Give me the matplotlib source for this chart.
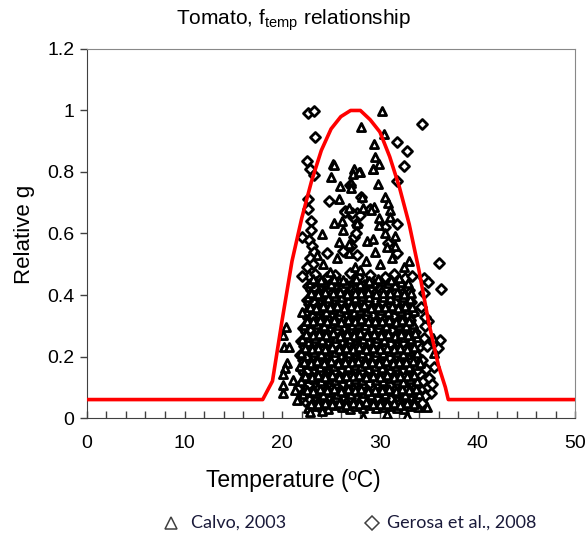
import numpy as np
import matplotlib
matplotlib.use("Agg")
import matplotlib.pyplot as plt
from matplotlib.lines import Line2D

plt.rcParams['font.family'] = ['Liberation Sans', 'DejaVu Sans']
plt.rcParams['mathtext.fontset'] = 'custom'
plt.rcParams['mathtext.rm'] = 'Liberation Sans'

# f_temp curve
curve_temp = [0, 18, 19, 20, 21, 22, 23, 24, 25, 26, 27, 28, 29, 30, 31, 32, 33, 34, 35, 36, 36.7, 37, 50]
curve_g = [0.06, 0.06, 0.12, 0.32, 0.51, 0.65, 0.77, 0.87, 0.94, 0.98, 1.0, 1.0, 0.97, 0.93, 0.85, 0.75,
           0.63, 0.48, 0.31, 0.17, 0.10, 0.06, 0.06]

# Calvo, 2003 (triangles) - (temperature, relative g)
calvo_points = [
    (22.6,.032),(23.3,.040),(24.1,.036),(24.7,.030),(25.5,.041),(26.1,.035),(26.9,.029),(27.5,.038),(28.3,.033),
    (28.9,.042),(29.6,.031),(30.4,.037),(31.0,.040),(31.8,.034),(32.5,.030),(33.1,.039),(33.9,.036),
    (22.9,.047),(23.7,.044),(24.4,.049),(25.1,.045),(25.8,.050),(26.5,.043),(27.2,.048),(27.9,.046),(28.6,.051),
    (29.3,.044),(30.0,.047),(30.7,.045),(31.4,.049),(32.1,.043),(32.8,.048),(33.5,.046),
    (22.1,.078),(22.8,.085),(23.5,.081),(24.2,.076),(24.9,.086),(25.6,.079),(26.3,.083),(27.0,.077),(27.7,.088),
    (28.4,.080),(29.1,.075),(29.8,.084),(30.5,.079),(31.2,.087),(31.9,.081),(32.6,.076),(33.3,.085),(34.0,.079),
    (22.5,.092),(23.2,.089),(23.9,.094),(24.6,.090),(25.3,.095),(26.0,.088),(26.7,.093),(27.4,.091),(28.1,.096),
    (28.8,.089),(29.5,.092),(30.2,.090),(30.9,.094),(31.6,.088),(32.3,.093),(33.0,.091),(33.7,.095),
    (21.9,.122),(22.6,.130),(23.3,.126),(24.0,.119),(24.7,.128),(25.4,.124),(26.1,.131),(26.8,.121),(27.5,.127),
    (28.2,.123),(28.9,.132),(29.6,.125),(30.3,.120),(31.0,.129),(31.7,.124),(32.4,.118),(33.1,.127),(33.8,.122),
    (22.3,.137),(23.0,.134),(23.7,.139),(24.4,.135),(25.1,.140),(25.8,.133),(26.5,.138),(27.2,.136),(27.9,.141),
    (28.6,.134),(29.3,.137),(30.0,.135),(30.7,.139),(31.4,.133),(32.1,.138),(32.8,.136),(33.5,.140),
    (21.8,.168),(22.5,.175),(23.2,.171),(23.9,.165),(24.6,.174),(25.3,.169),(26.0,.176),(26.7,.166),(27.4,.172),
    (28.1,.168),(28.8,.177),(29.5,.170),(30.2,.164),(30.9,.173),(31.6,.169),(32.3,.175),(33.0,.167),(33.7,.172),
    (22.2,.182),(22.9,.179),(23.6,.184),(24.3,.180),(25.0,.185),(25.7,.178),(26.4,.183),(27.1,.181),(27.8,.186),
    (28.5,.179),(29.2,.182),(29.9,.180),(30.6,.184),(31.3,.178),(32.0,.183),(32.7,.181),(33.4,.185),(34.1,.179),
    (21.9,.212),(22.6,.220),(23.3,.216),(24.0,.209),(24.7,.218),(25.4,.214),(26.1,.221),(26.8,.211),(27.5,.217),
    (28.2,.213),(28.9,.222),(29.6,.215),(30.3,.210),(31.0,.219),(31.7,.214),(32.4,.208),(33.1,.217),(33.8,.212),
    (22.3,.227),(23.0,.224),(23.7,.229),(24.4,.225),(25.1,.230),(25.8,.223),(26.5,.228),(27.2,.226),(27.9,.231),
    (28.6,.224),(29.3,.227),(30.0,.225),(30.7,.229),(31.4,.223),(32.1,.228),(32.8,.226),(33.5,.230),
    (22.0,.258),(22.7,.265),(23.4,.261),(24.1,.255),(24.8,.264),(25.5,.259),(26.2,.266),(26.9,.256),(27.6,.262),
    (28.3,.258),(29.0,.267),(29.7,.260),(30.4,.254),(31.1,.263),(31.8,.259),(32.5,.265),(33.2,.257),(33.8,.262),
    (22.4,.272),(23.1,.269),(23.8,.274),(24.5,.270),(25.2,.275),(25.9,.268),(26.6,.273),(27.3,.271),(28.0,.276),
    (28.7,.269),(29.4,.272),(30.1,.270),(30.8,.274),(31.5,.268),(32.2,.273),(32.9,.271),(33.6,.275),
    (22.2,.302),(22.9,.310),(23.6,.306),(24.3,.299),(25.0,.308),(25.7,.304),(26.4,.311),(27.1,.301),(27.8,.307),
    (28.5,.303),(29.2,.312),(29.9,.305),(30.6,.300),(31.3,.309),(32.0,.304),(32.7,.298),(33.4,.307),
    (22.5,.317),(23.2,.314),(23.9,.319),(24.6,.315),(25.3,.320),(26.0,.313),(26.7,.318),(27.4,.316),(28.1,.321),
    (28.8,.314),(29.5,.317),(30.2,.315),(30.9,.319),(31.6,.313),(32.3,.318),(33.0,.316),
    (22.4,.348),(23.1,.355),(23.8,.351),(24.5,.345),(25.2,.354),(25.9,.349),(26.6,.356),(27.3,.346),(28.0,.352),
    (28.7,.348),(29.4,.357),(30.1,.350),(30.8,.344),(31.5,.353),(32.2,.349),(32.9,.355),(33.5,.347),
    (22.8,.362),(23.5,.359),(24.2,.364),(24.9,.360),(25.6,.365),(26.3,.358),(27.0,.363),(27.7,.361),(28.4,.366),
    (29.1,.359),(29.8,.362),(30.5,.360),(31.2,.364),(31.9,.358),(32.6,.363),(33.3,.361),
    (22.6,.392),(23.3,.400),(24.0,.396),(24.7,.389),(25.4,.398),(26.1,.394),(26.8,.401),(27.5,.391),(28.2,.397),
    (28.9,.393),(29.6,.402),(30.3,.395),(31.0,.390),(31.7,.399),(32.4,.394),(33.1,.388),
    (22.9,.407),(23.7,.404),(24.4,.409),(25.2,.405),(25.9,.410),(26.6,.403),(27.4,.408),(28.1,.406),(28.8,.411),
    (29.6,.404),(30.3,.407),(31.0,.405),(31.8,.409),(32.5,.403),(33.2,.408),
    (22.8,.438),(23.5,.445),(24.3,.441),(25.0,.435),(25.8,.444),(26.5,.439),(27.2,.446),(28.0,.436),(28.7,.442),
    (29.4,.438),(30.1,.447),(30.8,.440),(31.5,.434),(32.2,.443),(32.9,.439),
    (23.2,.451),(24.0,.448),(25.3,.453),(26.2,.449),(27.6,.452),(28.9,.447),(29.8,.452),(31.1,.450),(32.0,.454),
    (24.2,.50),(25.6,.52),(27.4,.49),(28.6,.51),(30.0,.50),(31.2,.52),(32.5,.49),(23.6,.53),(26.8,.535),
    (29.5,.54),(33.0,.51),(24.9,.475),(28.0,.48),
    (30.26,.999),(28.07,.945),(30.43,.923),(29.4,.891),(29.5,.85),(29.9,.826),(29.34,.81),(25.17,.826),
    (25.3,.822),(27.39,.81),(27.97,.80),(27.2,.793),(25.0,.783),(25.92,.755),(27.0,.765),(27.05,.748),
    (29.85,.76),(28.18,.718),(25.82,.711),(30.53,.718),(30.87,.698),(31.05,.676),(26.87,.684),(28.3,.682),
    (29.4,.687),(29.1,.678),(31.05,.655),(25.3,.635),(26.1,.64),(26.26,.611),(27.63,.635),(29.95,.628),
    (29.9,.65),(24.05,.598),(25.79,.573),(26.87,.566),(28.65,.577),(29.34,.581),(30.53,.60),(31.56,.593),
    (30.7,.557),(31.56,.56),(29.27,.809),(27.9,.80),
    (20.39,.295),(20.1,.27),(20.18,.232),(20.73,.23),(20.52,.18),(20.29,.162),(20.05,.143),(20.05,.107),
    (20.05,.08),(22.0,.346),(21.14,.124),(21.3,.09),(21.5,.06),
    (35.41,.259),(35.5,.21),
    (22.85,.020),(24.05,.022),(28.3,.004),(30.7,.012),(32.75,.008),(34.8,.037),
]

# Gerosa et al., 2008 (diamonds) - (temperature, relative g)
gerosa_points = [
    (22.3,.055),(23.0,.061),(23.7,.058),(24.4,.052),(25.1,.060),(25.8,.056),(26.5,.063),(27.2,.053),(27.9,.059),
    (28.6,.055),(29.3,.064),(30.0,.057),(30.7,.051),(31.4,.061),(32.1,.056),(32.8,.050),(33.5,.059),(34.2,.054),
    (22.0,.069),(22.7,.066),(23.4,.071),(24.1,.067),(24.8,.072),(25.5,.065),(26.2,.070),(26.9,.068),(27.6,.073),
    (28.3,.066),(29.0,.069),(29.7,.067),(30.4,.071),(31.1,.065),(31.8,.070),(32.5,.068),(33.2,.072),(33.9,.066),
    (21.7,.100),(22.4,.106),(23.1,.103),(23.8,.097),(24.5,.105),(25.2,.101),(25.9,.108),(26.6,.098),(27.3,.104),
    (28.0,.100),(28.7,.109),(29.4,.102),(30.1,.096),(30.8,.106),(31.5,.101),(32.2,.107),(32.9,.099),(33.6,.104),
    (34.3,.098),
    (22.0,.114),(22.7,.111),(23.4,.116),(24.1,.112),(24.8,.117),(25.5,.110),(26.2,.115),(26.9,.113),(27.6,.118),
    (28.3,.111),(29.0,.114),(29.7,.112),(30.4,.116),(31.1,.110),(31.8,.115),(32.5,.113),(33.2,.117),(33.9,.111),
    (22.2,.145),(22.9,.151),(23.6,.148),(24.3,.142),(25.0,.150),(25.7,.146),(26.4,.153),(27.1,.143),(27.8,.149),
    (28.5,.145),(29.2,.154),(29.9,.147),(30.6,.141),(31.3,.151),(32.0,.146),(32.7,.140),(33.4,.149),(34.1,.144),
    (21.9,.159),(22.6,.156),(23.3,.161),(24.0,.157),(24.7,.162),(25.4,.155),(26.1,.160),(26.8,.158),(27.5,.163),
    (28.2,.156),(28.9,.159),(29.6,.157),(30.3,.161),(31.0,.155),(31.7,.160),(32.4,.158),(33.1,.162),(33.8,.156),
    (22.1,.190),(22.8,.196),(23.5,.193),(24.2,.187),(24.9,.195),(25.6,.191),(26.3,.198),(27.0,.188),(27.7,.194),
    (28.4,.190),(29.1,.199),(29.8,.192),(30.5,.186),(31.2,.196),(31.9,.191),(32.6,.197),(33.3,.189),(34.0,.194),
    (21.8,.204),(22.5,.201),(23.2,.206),(23.9,.202),(24.6,.207),(25.3,.200),(26.0,.205),(26.7,.203),(27.4,.208),
    (28.1,.201),(28.8,.204),(29.5,.202),(30.2,.206),(30.9,.200),(31.6,.205),(32.3,.203),(33.0,.207),(33.7,.201),
    (22.2,.235),(22.9,.241),(23.6,.238),(24.3,.232),(25.0,.240),(25.7,.236),(26.4,.243),(27.1,.233),(27.8,.239),
    (28.5,.235),(29.2,.244),(29.9,.237),(30.6,.231),(31.3,.241),(32.0,.236),(32.7,.230),(33.4,.239),(34.1,.234),
    (21.9,.249),(22.6,.246),(23.3,.251),(24.0,.247),(24.7,.252),(25.4,.245),(26.1,.250),(26.8,.248),(27.5,.253),
    (28.2,.246),(28.9,.249),(29.6,.247),(30.3,.251),(31.0,.245),(31.7,.250),(32.4,.248),(33.1,.252),(33.8,.246),
    (22.4,.280),(23.1,.286),(23.8,.283),(24.5,.277),(25.2,.285),(25.9,.281),(26.6,.288),(27.3,.278),(28.0,.284),
    (28.7,.280),(29.4,.289),(30.1,.282),(30.8,.276),(31.5,.286),(32.2,.281),(32.9,.287),(33.6,.279),
    (22.1,.294),(22.8,.291),(23.5,.296),(24.2,.292),(24.9,.297),(25.6,.290),(26.3,.295),(27.0,.293),(27.7,.298),
    (28.4,.291),(29.1,.294),(29.8,.292),(30.5,.296),(31.2,.290),(31.9,.295),(32.6,.293),(33.3,.297),
    (22.6,.325),(23.3,.331),(24.0,.328),(24.7,.322),(25.4,.330),(26.1,.326),(26.8,.333),(27.5,.323),(28.2,.329),
    (28.9,.325),(29.6,.334),(30.3,.327),(31.0,.321),(31.7,.331),(32.4,.326),(33.1,.320),
    (22.3,.339),(23.0,.336),(23.7,.341),(24.4,.337),(25.1,.342),(25.8,.335),(26.5,.340),(27.2,.338),(27.9,.343),
    (28.6,.336),(29.3,.339),(30.0,.337),(30.7,.341),(31.4,.335),(32.1,.340),(32.8,.338),(33.4,.342),
    (22.7,.370),(23.4,.376),(24.1,.373),(24.8,.367),(25.5,.375),(26.2,.371),(26.9,.378),(27.6,.368),(28.3,.374),
    (29.0,.370),(29.7,.379),(30.4,.372),(31.1,.366),(31.8,.376),(32.5,.371),(33.2,.377),
    (22.5,.384),(23.2,.381),(23.9,.386),(24.6,.382),(25.3,.387),(26.0,.380),(26.7,.385),(27.4,.383),(28.1,.388),
    (28.8,.381),(29.5,.384),(30.2,.382),(30.9,.386),(31.6,.380),(32.3,.385),(33.0,.383),
    (22.9,.415),(23.6,.421),(24.4,.418),(25.1,.412),(25.9,.420),(26.6,.416),(27.3,.423),(28.1,.413),(28.8,.419),
    (29.5,.415),(30.2,.424),(30.9,.417),(31.6,.411),(32.3,.421),(33.0,.416),
    (22.6,.429),(23.3,.426),(24.0,.431),(24.7,.427),(25.5,.432),(26.2,.425),(26.9,.430),(27.7,.428),(28.4,.433),
    (29.1,.426),(29.8,.429),(30.6,.427),(31.3,.431),(32.0,.425),(32.7,.430),
    (22.7,.462),(23.4,.468),(24.6,.458),(25.4,.466),(26.9,.470),(27.8,.457),(29.0,.465),(30.5,.460),(31.4,.468),
    (32.6,.455),(33.3,.463),
    (22.67,.993),(23.26,.999),(23.36,.913),(22.5,.837),(22.85,.81),(23.3,.79),(22.67,.711),(22.67,.68),
    (22.95,.64),(22.95,.61),(22.06,.59),(34.29,.956),(31.73,.897),(32.82,.868),(32.48,.82),(31.73,.77),
    (24.83,.706),(24.56,.536),(31.73,.63),(27.63,.668),(27.2,.655),(29.0,.68),(27.63,.628),(26.43,.672),
    (27.39,.59),(27.6,.60),(27.0,.56),(26.26,.544),(27.63,.53),(30.53,.622),(30.87,.568),(31.73,.535),
    (26.4,.67),(27.1,.666),(28.0,.66),(26.9,.758),(28.1,.72),
    (22.7,.58),(23.0,.56),(23.3,.54),(22.8,.52),(23.1,.50),(22.5,.49),(22.0,.462),
    (36.1,.505),(36.27,.42),(34.53,.454),(34.97,.443),(34.53,.407),(34.97,.316),(34.63,.30),(36.17,.254),
    (35.99,.227),(35.55,.165),(34.6,.25),(34.8,.235),(34.5,.26),(34.4,.12),(34.9,.10),(35.2,.08),(34.6,.07),
    (35.0,.13),(34.3,.05),(35.3,.11),(34.7,.16),(34.3,.19),(34.6,.33),(34.2,.36),
]

calvo_t, calvo_g = zip(*calvo_points)
gerosa_t, gerosa_g = zip(*gerosa_points)

fig = plt.figure(figsize=(5.87, 5.38), dpi=100)
ax = fig.add_axes([0.148, 0.223, 0.832, 0.686])

ax.scatter(gerosa_t, gerosa_g, s=26, marker='D', facecolors='white', edgecolors='black',
           linewidths=2.0, zorder=2)
ax.scatter(calvo_t, calvo_g, s=34, marker='^', facecolors='white', edgecolors='black',
           linewidths=2.0, zorder=3)
ax.plot(curve_temp, curve_g, color='#ff0000', lw=2.6, zorder=4)

ax.set_xlim(0, 50)
ax.set_ylim(0, 1.2)
ax.set_xticks(np.arange(0, 51, 10))
ax.set_xticks(np.arange(0, 51, 2), minor=True)
ax.set_yticks(np.arange(0, 1.21, 0.2))
ax.set_yticklabels(['0', '0.2', '0.4', '0.6', '0.8', '1', '1.2'])
ax.tick_params(axis='x', which='both', direction='in', length=5, width=1, color='#404040',
               labelsize=14, pad=12)
ax.tick_params(axis='y', direction='out', length=5, width=1, color='#404040', labelsize=14, pad=4)
for side in ['top', 'right']:
    ax.spines[side].set_color('#888888')
for side in ['left', 'bottom']:
    ax.spines[side].set_color('#404040')

fig.text(0.5, 0.962, r'Tomato, f$_{\mathrm{temp}}$ relationship', ha='center', va='center', fontsize=15)
fig.text(0.5, 0.106, 'Temperature (ºC)', ha='center', va='center', fontsize=16.5)
fig.text(0.042, 0.565, 'Relative g', ha='center', va='center', rotation=90, fontsize=16)

# legend below the chart
fig.add_artist(Line2D([0.291], [0.028], marker='^', markersize=8, markerfacecolor='white',
                      markeredgecolor='#404040', markeredgewidth=1.1, transform=fig.transFigure))
fig.text(0.325, 0.028, 'Calvo, 2003', ha='left', va='center', fontsize=13, family='Lato', color='#1a1a3a')
fig.add_artist(Line2D([0.633], [0.028], marker='D', markersize=7, markerfacecolor='white',
                      markeredgecolor='#404040', markeredgewidth=1.1, transform=fig.transFigure))
fig.text(0.66, 0.028, 'Gerosa et al., 2008', ha='left', va='center', fontsize=13, family='Lato',
         color='#1a1a3a')

fig.savefig('out.png', dpi=100)
